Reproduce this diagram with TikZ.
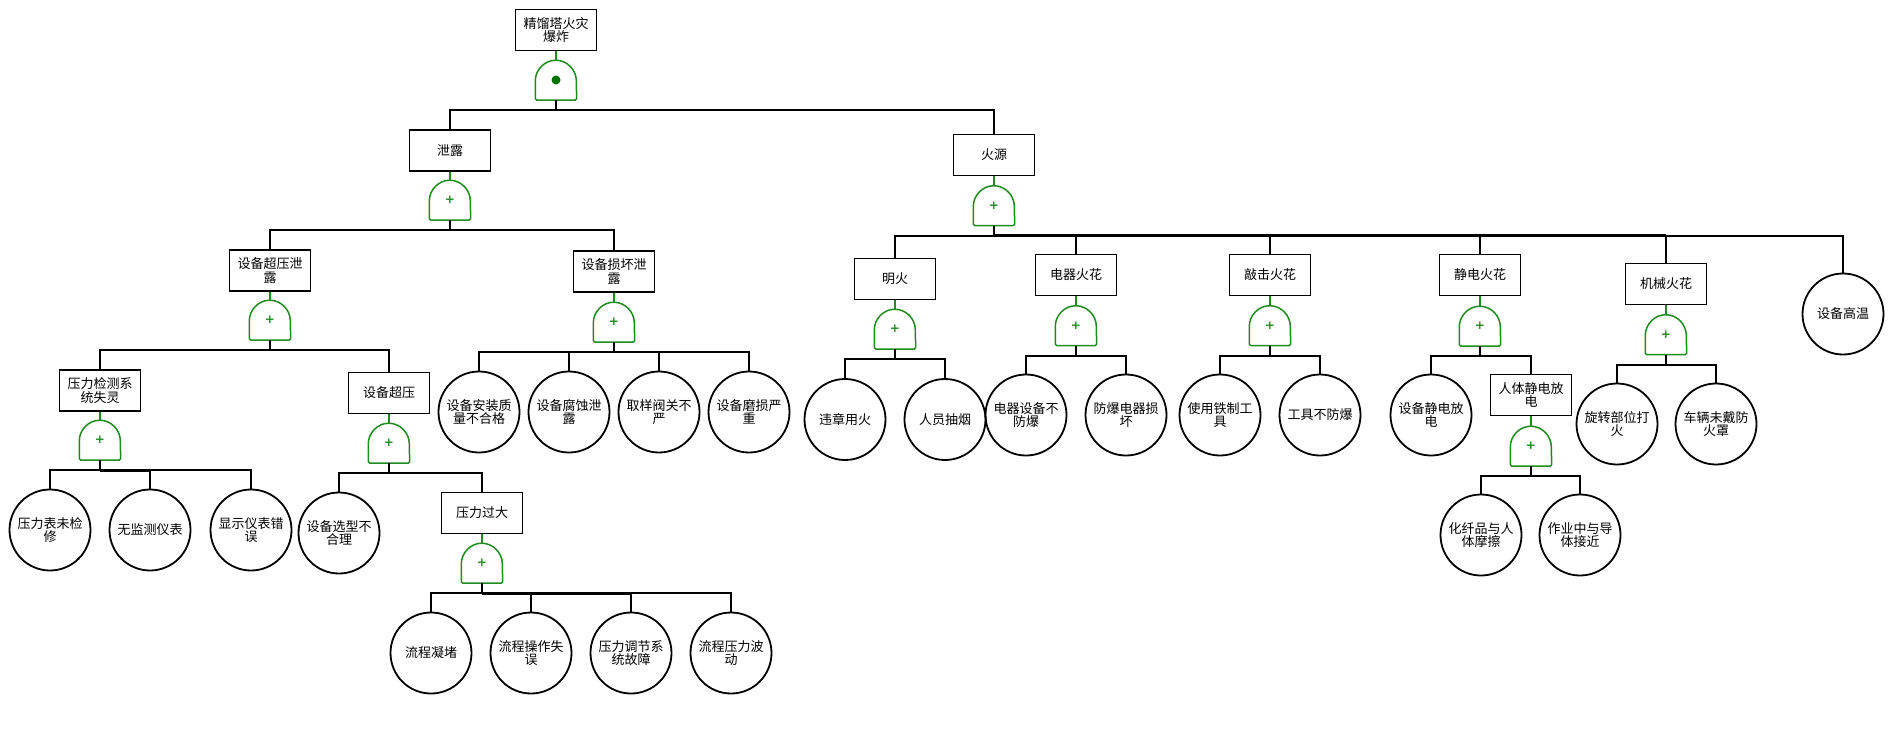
\documentclass[tikz,border=0pt]{standalone}
\usepackage{fontspec}
\setmainfont{Noto Sans CJK SC}
\newfontfamily\plusfont{DejaVu Sans}
\definecolor{gatecol}{RGB}{30,140,30}
\definecolor{dotcol}{RGB}{0,115,0}
\newcommand\fs{\fontsize{13}{13.5}\selectfont}
\newcommand\orshape[1]{\draw[gl, rounded corners=1.5pt] (#1.south west) -- ++(0pt,18pt) arc[start angle=180,end angle=0,x radius=20.5pt,y radius=22pt] -- (#1.south east) -- cycle;}
\begin{document}
\begin{tikzpicture}[x=1pt,y=-1pt,
  box/.style={draw, line width=1.8pt, minimum width=81pt, minimum height=41pt, inner sep=0pt, align=center, font=\fs},
  evt/.style={circle, draw, line width=1.8pt, minimum size=81pt, inner sep=0pt, align=center, font=\fs},
  orgate/.style={minimum width=41pt, minimum height=40pt, inner sep=0pt, text=gatecol, font=\plusfont\bfseries\fontsize{12}{12}\selectfont},
  gl/.style={draw=gatecol, line width=1.5pt},
  stem/.style={line width=2.6pt},
  conn/.style={line width=1.6pt}]
\useasboundingbox[fill=white] (0,0) rectangle (1893,753);

% ---------- nodes ----------
\node[box] (t) at (556,30) {精馏塔火灾\\爆炸};
\node[orgate] (g0) at (556,80) {};
\node[box] (xl) at (450,150.5) {泄露};
\node[orgate] (g1) at (450,200) {+};
\node[box] (hy) at (994,155) {火源};
\node[orgate] (g7) at (994,205.5) {+};

\node[box] (a1) at (270,270.5) {设备超压泄\\露};
\node[orgate] (g2) at (270,320) {+};
\node[box] (a2) at (614,271.5) {设备损坏泄\\露};
\node[orgate] (g6) at (614,322) {+};

\node[box] (p1) at (100,390.5) {压力检测系\\统失灵};
\node[orgate] (g3) at (100,440) {+};
\node[box] (p2) at (389,393) {设备超压};
\node[orgate] (g4) at (389,443) {+};

\node[evt] (c31) at (50,530) {压力表未检\\修};
\node[evt] (c32) at (150,530) {无监测仪表};
\node[evt] (c33) at (251,530) {显示仪表错\\误};
\node[evt] (c41) at (339,533) {设备选型不\\合理};
\node[box] (p3) at (482,513) {压力过大};
\node[orgate] (g5) at (482,563) {+};
\node[evt] (c51) at (431,653) {流程凝堵};
\node[evt] (c52) at (531,653) {流程操作失\\误};
\node[evt] (c53) at (631,653) {压力调节系\\统故障};
\node[evt] (c54) at (731,653) {流程压力波\\动};

\node[evt] (c61) at (479,412) {设备安装质\\量不合格};
\node[evt] (c62) at (569,412) {设备腐蚀泄\\露};
\node[evt] (c63) at (659,412) {取样阀关不\\严};
\node[evt] (c64) at (749,412) {设备磨损严\\重};

\node[box] (m1) at (895,279) {明火};
\node[box] (m2) at (1076,275) {电器火花};
\node[box] (m3) at (1270,275) {敲击火花};
\node[box] (m4) at (1480,275) {静电火花};
\node[box] (m5) at (1666,284) {机械火花};
\node[evt] (m6) at (1843,314) {设备高温};

\node[orgate] (g8) at (895,329) {+};
\node[evt] (c81) at (845,419.5) {违章用火};
\node[evt] (c82) at (945,419.5) {人员抽烟};

\node[orgate] (g9) at (1076,325.5) {+};
\node[evt] (c91) at (1026,415) {电器设备不\\防爆};
\node[evt] (c92) at (1126,415) {防爆电器损\\坏};

\node[orgate] (g10) at (1270,325.5) {+};
\node[evt] (c101) at (1220,415) {使用铁制工\\具};
\node[evt] (c102) at (1320,415) {工具不防爆};

\node[orgate] (g11) at (1480,326) {+};
\node[evt] (c111) at (1431,415) {设备静电放\\电};
\node[box] (n12) at (1531,395) {人体静电放\\电};
\node[orgate] (g12) at (1531,446) {+};
\node[evt] (c121) at (1481,535) {化纤品与人\\体摩擦};
\node[evt] (c122) at (1580,535) {作业中与导\\体接近};

\node[orgate] (g13) at (1666,334.5) {+};
\node[evt] (c131) at (1617,424) {旋转部位打\\火};
\node[evt] (c132) at (1716,424) {车辆未戴防\\火罩};

% ---------- gates ----------
\foreach \g in {g0,g1,g2,g3,g4,g5,g6,g7,g8,g9,g10,g11,g12,g13} {\orshape{\g}}
\fill[dotcol] (g0) circle (4.5pt);

% box -> gate (green)
\foreach \b/\g in {t/g0,xl/g1,hy/g7,a1/g2,a2/g6,p1/g3,p2/g4,p3/g5,m1/g8,m2/g9,m3/g10,m4/g11,n12/g12,m5/g13}
  {\draw[gl] (\b.south) -- (\g.north);}

% bus points and stems
\foreach \g in {g0,g1,g2,g3,g4,g5,g6,g7,g8,g9,g10,g11,g12,g13} {
  \coordinate (\g bus) at ([yshift=-10pt]\g.south);
  \draw[stem] (\g.south) -- (\g bus);
}

% connectors gate -> children
\foreach \g/\c in {g0/xl,g0/hy,
  g1/a1,g1/a2,
  g2/p1,g2/p2,
  g3/c31,g3/c32,g3/c33,
  g4/c41,g4/p3,
  g5/c51,g5/c52,g5/c53,g5/c54,
  g6/c61,g6/c62,g6/c63,g6/c64,
  g7/m1,g7/m2,g7/m3,g7/m4,g7/m5,g7/m6,
  g8/c81,g8/c82,
  g9/c91,g9/c92,
  g10/c101,g10/c102,
  g11/c111,g11/n12,
  g12/c121,g12/c122,
  g13/c131,g13/c132}
  {\draw[conn] (\g bus) -| (\c.north);}

% heavier bus segments
\draw[line width=2.6pt] (g3bus) -- (g3bus -| c32.north);
\draw[line width=2.6pt] (g5bus) -- (g5bus -| c53.north);
\draw[line width=2.6pt] (g7bus) -- (g7bus -| m5.north);
\end{tikzpicture}
\end{document}
